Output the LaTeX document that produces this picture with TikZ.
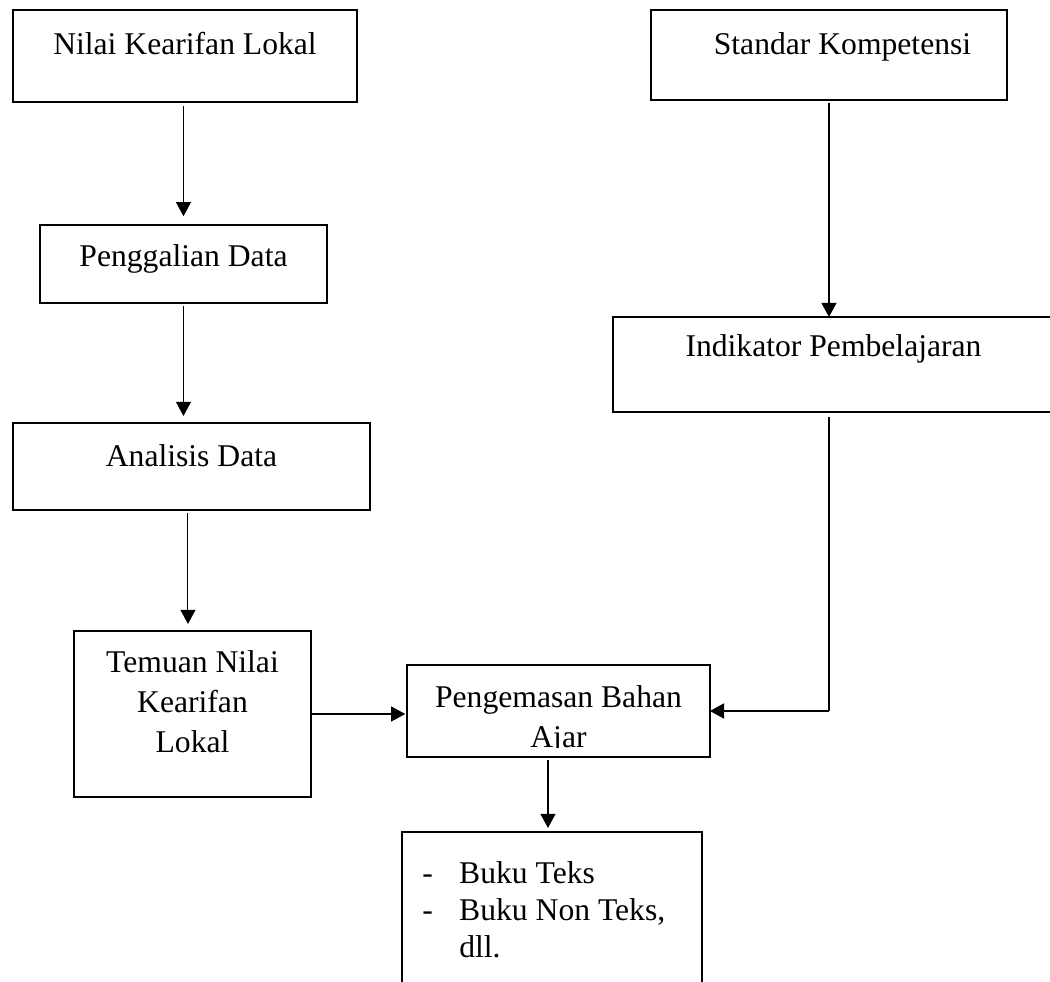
\documentclass[tikz,border=0pt]{standalone}
\usepackage{fontspec}
\setmainfont{Liberation Serif}
\usetikzlibrary{arrows.meta}

\begin{document}
\begin{tikzpicture}[
  x=0.02cm, y=-0.02cm,
  kotak/.style={draw, line width=1.1pt, inner sep=0pt, outer sep=0pt, anchor=north west},
  teks/.style={inner sep=0pt, font=\fontsize{18}{22.8}\selectfont},
  panah/.style={-{Triangle[length=8pt, width=8.5pt]}, line width=0.6pt}
]
\useasboundingbox (0,0) rectangle (1050,982);
\clip (0,0) rectangle (1050,982);
% kotak
\node[kotak, minimum width=6.88cm, minimum height=1.84cm] (nilai) at (13,10) {};
\node[kotak, minimum width=7.12cm, minimum height=1.80cm] (standar) at (651,10) {};
\node[kotak, minimum width=5.74cm, minimum height=1.56cm] (gali) at (40,225) {};
\node[kotak, minimum width=7.14cm, minimum height=1.74cm] (analisis) at (13,423) {};
\node[kotak, minimum width=8.84cm, minimum height=1.90cm] (indikator) at (613,317) {};
\node[kotak, minimum width=4.74cm, minimum height=3.32cm] (temuan) at (74,631) {};
\node[kotak, minimum width=6.06cm, minimum height=1.84cm] (kemas) at (407,665) {};
\node[kotak, minimum width=6.00cm, minimum height=3.36cm] (buku) at (402,832) {};
% teks
\node[teks, anchor=base] (nilai-t) at (185,55) {Nilai Kearifan Lokal};
\node[teks, anchor=base] (standar-t) at (842.5,55) {Standar Kompetensi};
\node[teks, anchor=base] (gali-t) at (183.5,267) {Penggalian Data};
\node[teks, anchor=base] (analisis-t) at (191.5,466) {Analisis Data};
\node[teks, anchor=base] (indikator-t) at (833.5,357) {Indikator Pembelajaran};
\node[teks, align=center, anchor=north] (temuan-t) at (192.5,650) {Temuan Nilai\\Kearifan\\Lokal};
\begin{scope}
  \clip (kemas.north west) rectangle ([yshift=0.18cm]kemas.south east);
  \node[teks, align=center, anchor=north] (kemas-t) at (558.5,685) {Pengemasan Bahan\\Ajar};
\end{scope}
\node[teks, font=\fontsize{18}{21}\selectfont, align=left, anchor=north west] (buku-t) at (422,861)
  {\makebox[21pt][l]{-}Buku Teks\\\makebox[21pt][l]{-}Buku Non Teks,\\\hspace*{21pt}dll.};
% panah
\draw[panah, shorten <=2.3pt, shorten >=5pt] (gali.north |- nilai.south) -- (gali.north);
\draw[panah, shorten <=1.7pt, shorten >=4pt] (gali.south) -- (gali.south |- analisis.north);
\draw[panah, shorten <=1.7pt, shorten >=4pt] ([xshift=-0.07cm]analisis.south) -- ([xshift=-0.07cm]analisis.south |- temuan.north);
\draw[panah, shorten <=1.7pt] (standar.south) -- (standar.south |- indikator.north);
\draw[panah, shorten >=1pt] (temuan.east) -- (temuan.east -| kemas.west);
\coordinate (belok) at (standar.south |- kemas.east);
\draw[line width=0.6pt, shorten <=2.8pt] (standar.south |- indikator.south) -- (belok);
\draw[panah, line width=1.1pt] (belok) -- (kemas.east);
\draw[panah, shorten <=1.7pt, shorten >=2.3pt] ([xshift=-0.21cm]kemas.south) -- ([xshift=-0.21cm]kemas.south |- buku.north);
\end{tikzpicture}
\end{document}
